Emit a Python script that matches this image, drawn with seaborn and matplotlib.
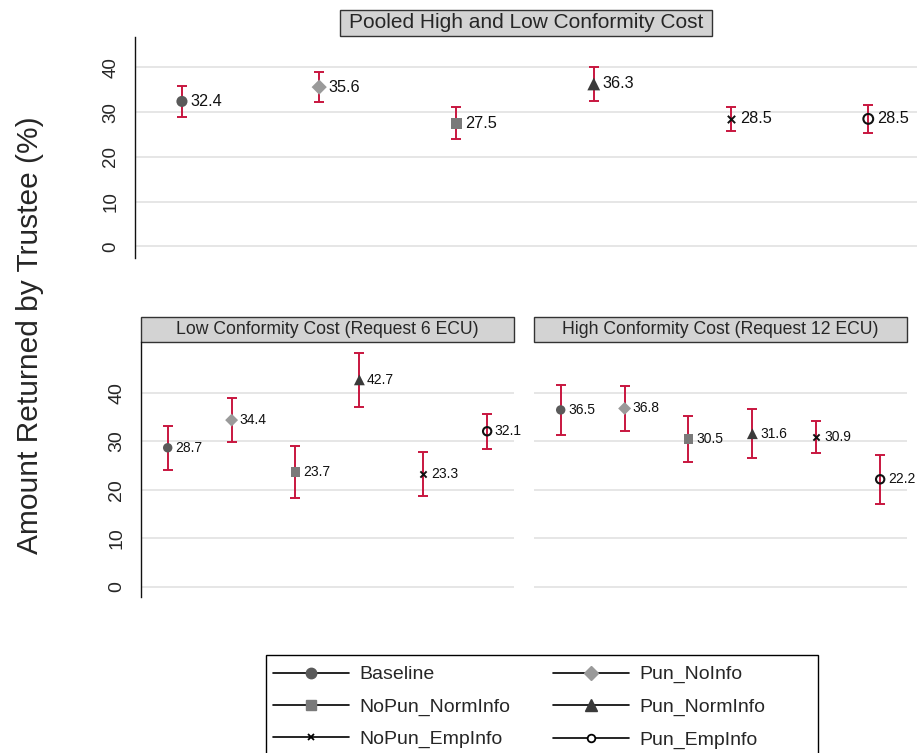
import numpy as np
import pandas as pd
import matplotlib
matplotlib.use('Agg')
import matplotlib.pyplot as plt
from matplotlib.lines import Line2D
from matplotlib.patches import Rectangle
import seaborn as sns

# treatments and values
treatments = ['Baseline', 'Pun_NoInfo', 'NoPun_NormInfo', 'Pun_NormInfo', 'NoPun_EmpInfo', 'Pun_EmpInfo']
pooled_mean = [32.4, 35.6, 27.5, 36.3, 28.5, 28.5]
pooled_ci = [3.4, 3.3, 3.6, 3.8, 2.7, 3.1]
low_mean = [28.7, 34.4, 23.7, 42.7, 23.3, 32.1]
low_ci = [4.55, 4.55, 5.3, 5.5, 4.6, 3.65]
high_mean = [36.5, 36.8, 30.5, 31.6, 30.9, 22.2]
high_ci = [5.15, 4.7, 4.8, 5.0, 3.25, 5.1]
y_ticks = [0, 10, 20, 30, 40]

# marker styles (Stata-like)
markers = {'Baseline': 'o', 'Pun_NoInfo': 'D', 'NoPun_NormInfo': 's',
           'Pun_NormInfo': '^', 'NoPun_EmpInfo': 'x', 'Pun_EmpInfo': 'o'}
colors = {'Baseline': '#5a5a5a', 'Pun_NoInfo': '#9a9a9a', 'NoPun_NormInfo': '#7a7a7a',
          'Pun_NormInfo': '#3a3a3a', 'NoPun_EmpInfo': '#111111', 'Pun_EmpInfo': '#111111'}
sizes = {'Baseline': 64, 'Pun_NoInfo': 60, 'NoPun_NormInfo': 70,
         'Pun_NormInfo': 85, 'NoPun_EmpInfo': 28, 'Pun_EmpInfo': 50}
bar_color = '#c8163f'

sns.set_style('white')
plt.rcParams['font.family'] = ['Liberation Sans', 'DejaVu Sans']

fig = plt.figure(figsize=(9.19, 7.53), dpi=100)
W, H = 919, 753


def px_axes(x0, y0, x1, y1):
    return fig.add_axes([x0 / W, 1 - y1 / H, (x1 - x0) / W, (y1 - y0) / H])


ax_top = px_axes(135, 37, 917, 258)
ax_low = px_axes(141, 342, 514, 597)
ax_high = px_axes(534, 342, 907, 597)


def draw_panel(ax, means, cis, xlim, ylim, msize_scale, fs_lab, fs_tick, cap, show_axis=True):
    df = pd.DataFrame({'treat': treatments, 'pos': np.arange(1, 7), 'mean': means, 'ci': cis})
    for y in y_ticks:
        ax.axhline(y, color='#e4e4e4', lw=1.3, zorder=0)
    ax.errorbar(df['pos'], df['mean'], yerr=df['ci'], fmt='none', ecolor=bar_color,
                elinewidth=1.4, capsize=cap, capthick=1.4, zorder=2)
    for _, r in df.iterrows():
        t = r['treat']
        if t == 'Pun_EmpInfo':
            sns.scatterplot(x=[r['pos']], y=[r['mean']], marker='o', s=sizes[t] * msize_scale,
                            facecolors='none', edgecolor=colors[t], linewidth=1.5, ax=ax, zorder=3)
        elif t == 'NoPun_EmpInfo':
            sns.scatterplot(x=[r['pos']], y=[r['mean']], marker='x', s=sizes[t] * msize_scale,
                            color=colors[t], linewidth=1.4, ax=ax, zorder=3)
        else:
            sns.scatterplot(x=[r['pos']], y=[r['mean']], marker=markers[t], s=sizes[t] * msize_scale,
                            color=colors[t], edgecolor='none', ax=ax, zorder=3)
        ax.annotate(f"{r['mean']:.1f}", (r['pos'], r['mean']), xytext=(fs_lab * 0.55, 0),
                    textcoords='offset points', va='center', ha='left', fontsize=fs_lab,
                    color='#111111')
    ax.set_xlim(*xlim)
    ax.set_ylim(*ylim)
    ax.set_xticks([])
    ax.set_xlabel('')
    ax.set_ylabel('')
    for s in ['top', 'right', 'bottom']:
        ax.spines[s].set_visible(False)
    if show_axis:
        ax.spines['left'].set_color('#111111')
        ax.spines['left'].set_linewidth(1.0)
        ax.set_yticks(y_ticks)
        ax.set_yticklabels([str(v) for v in y_ticks], rotation=90, va='center', fontsize=fs_tick)
        ax.tick_params(axis='y', direction='out', length=5.2, width=1, color='#111111', pad=6)
    else:
        ax.spines['left'].set_visible(False)
        ax.set_yticks([])
    ax.set_facecolor('white')


draw_panel(ax_top, pooled_mean, pooled_ci, (0.658, 6.355), (-2.6, 46.8), 1.0, 11.7, 13.5, 3.3)
draw_panel(ax_low, low_mean, low_ci, (0.582, 6.42), (-2.06, 50.5), 0.72, 10, 14, 3.8)
draw_panel(ax_high, high_mean, high_ci, (0.582, 6.42), (-2.06, 50.5), 0.72, 10, 14, 3.8, show_axis=False)

# panel titles
ax_top.add_patch(Rectangle(((340 - 135) / 782, 1 + 1 / 221), 372 / 782, 26 / 221,
                           transform=ax_top.transAxes, clip_on=False,
                           facecolor='#d3d3d3', edgecolor='#333333', lw=1))
ax_top.text(0.5, 1 + 14 / 221, 'Pooled High and Low Conformity Cost', transform=ax_top.transAxes,
            ha='center', va='center', fontsize=15)
for ax, title in [(ax_low, 'Low Conformity Cost (Request 6 ECU)'),
                  (ax_high, 'High Conformity Cost (Request 12 ECU)')]:
    ax.add_patch(Rectangle((0, 1.0), 1, 25 / 255, transform=ax.transAxes, clip_on=False,
                           facecolor='#d3d3d3', edgecolor='#333333', lw=1))
    ax.text(0.5, 1 + 12.5 / 255, title, transform=ax.transAxes, ha='center', va='center', fontsize=12.7)

fig.text(30 / W, 1 - 335 / H, 'Amount Returned by Trustee (%)', rotation=90,
         ha='center', va='center', fontsize=21.5)

# legend (row-major order like the reference)
handles = {}
for t in treatments:
    if t == 'Pun_EmpInfo':
        h = Line2D([], [], color='black', lw=1.2, marker='o', markersize=5.5,
                   markerfacecolor='white', markeredgecolor='black', markeredgewidth=1.3)
    elif t == 'NoPun_EmpInfo':
        h = Line2D([], [], color='black', lw=1.2, marker='x', markersize=5,
                   markeredgecolor='black', markeredgewidth=1.3)
    else:
        ms = {'Baseline': 7.5, 'Pun_NoInfo': 7, 'NoPun_NormInfo': 7.5, 'Pun_NormInfo': 8.5}[t]
        h = Line2D([], [], color='black', lw=1.2, marker=markers[t], markersize=ms,
                   markerfacecolor=colors[t], markeredgecolor=colors[t])
    handles[t] = h

order = ['Baseline', 'NoPun_NormInfo', 'NoPun_EmpInfo', 'Pun_NoInfo', 'Pun_NormInfo', 'Pun_EmpInfo']
leg = fig.legend([handles[t] for t in order], order, ncol=2, loc='upper left',
                 bbox_to_anchor=(262 / W, 1 - 655 / H), fontsize=14, frameon=False,
                 handlelength=3.9, columnspacing=2.2, labelspacing=0.76, handletextpad=0.55,
                 borderpad=0.55, borderaxespad=0)

# legend box drawn separately so it can be wider than the entries, as in the reference
fig.patches.append(Rectangle((266 / W, 1 - 760 / H), (818 - 266) / W, (760 - 655) / H,
                             transform=fig.transFigure, facecolor='none',
                             edgecolor='black', lw=1.0, zorder=5))

fig.savefig('out.png', dpi=100)
